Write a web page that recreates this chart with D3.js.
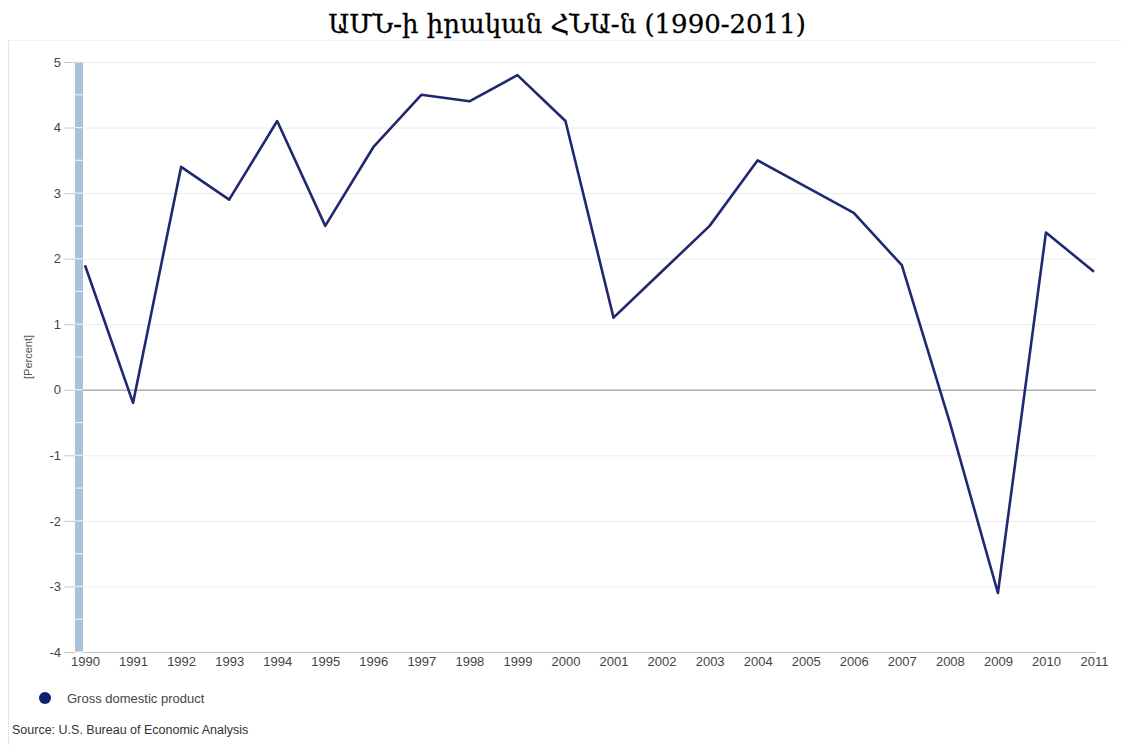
<!DOCTYPE html>
<html><head><meta charset="utf-8">
<script src="https://cdn.jsdelivr.net/npm/d3@7"></script>
<style>body{margin:0;background:#fff}svg{display:block}</style>
</head><body>
<svg id="c" width="1122" height="745"></svg>
<script>
const years = [1990,1991,1992,1993,1994,1995,1996,1997,1998,1999,2000,2001,2002,2003,2004,2005,2006,2007,2008,2009,2010,2011];
const gdp = [1.9,-0.2,3.4,2.9,4.1,2.5,3.7,4.5,4.4,4.8,4.1,1.1,1.8,2.5,3.5,3.1,2.7,1.9,-0.5,-3.1,2.4,1.8];
const yTicks = [-4,-3,-2,-1,0,1,2,3,4,5];
const title = "ԱՄՆ-ի իրական ՀՆԱ-ն (1990-2011)";
const seriesName = "Gross domestic product";
const source = "Source: U.S. Bureau of Economic  Analysis";
const yLabel = "[Percent]";

const svg = d3.select("#c");
const x = d3.scaleLinear().domain([1990,2011]).range([85,1094]);
const y = d3.scaleLinear().domain([-4,5]).range([652,62]);

// frame lines
svg.append("line").attr("x1",8.5).attr("x2",8.5).attr("y1",40).attr("y2",745).attr("stroke","#e4e4e4");
svg.append("line").attr("x1",8).attr("x2",1122).attr("y1",40.5).attr("y2",40.5).attr("stroke","#f0f0f0");

svg.append("text").attr("x",567).attr("y",33).attr("text-anchor","middle")
  .attr("font-family","DejaVu Serif, serif").attr("font-size",26).attr("fill","#000")
  .attr("stroke","#000").attr("stroke-width",0.3).text(title);

// grid
svg.append("g").selectAll("line").data(yTicks.filter(d=>d!==-4)).join("line")
  .attr("x1",83).attr("x2",1096).attr("y1",d=>y(d)+0.5).attr("y2",d=>y(d)+0.5)
  .attr("stroke",d=>d===0?"#b0b0b0":"#ebebeb").attr("stroke-width",d=>d===0?1.5:1);
svg.append("line").attr("x1",83).attr("x2",1096).attr("y1",652.5).attr("y2",652.5).attr("stroke","#b9c6d4");

// y axis bar
svg.append("rect").attr("x",75).attr("y",y(5)).attr("width",8).attr("height",y(-4)-y(5)).attr("fill","#a9c1d9");
const halfTicks = d3.range(-4,5.01,0.5);
svg.append("g").selectAll("line").data(halfTicks).join("line")
  .attr("x1",75).attr("x2",83).attr("y1",d=>y(d)).attr("y2",d=>y(d)).attr("stroke","#e6eef6").attr("stroke-width",1.2);

const yAxis = d3.axisLeft(y).tickValues(yTicks).tickSize(11).tickPadding(3).tickFormat(d=>String(d));
const ga = svg.append("g").attr("transform","translate(75,0)").call(yAxis);
ga.select(".domain").remove();
ga.selectAll(".tick line").attr("stroke","#c8c8c8");
ga.selectAll("text").attr("font-family","Liberation Sans, Arial, sans-serif").attr("font-size",13).attr("fill","#444");

const xAxis = d3.axisBottom(x).tickValues(years).tickSize(0).tickPadding(5).tickFormat(d=>String(d));
const gx = svg.append("g").attr("transform","translate(0,652)").call(xAxis);
gx.select(".domain").remove();
gx.selectAll("text").attr("font-family","Liberation Sans, Arial, sans-serif").attr("font-size",13).attr("fill","#444");

svg.append("text").attr("transform","translate(32,357) rotate(-90)").attr("text-anchor","middle")
  .attr("font-family","Liberation Sans, Arial, sans-serif").attr("font-size",11).attr("fill","#555").text(yLabel);

// line
const line = d3.line().x((d,i)=>x(years[i])).y(d=>y(d));
svg.append("path").datum(gdp).attr("d",line).attr("fill","none").attr("stroke","#1f2870")
  .attr("stroke-width",2.6).attr("stroke-linejoin","round");

// legend
svg.append("circle").attr("cx",45).attr("cy",698).attr("r",6).attr("fill","#10206a");
svg.append("text").attr("x",67).attr("y",703).attr("font-family","Liberation Sans, Arial, sans-serif")
  .attr("font-size",13).attr("fill","#444").text(seriesName);
svg.append("text").attr("x",12).attr("y",734).attr("font-family","Liberation Sans, Arial, sans-serif")
  .attr("font-size",12.5).attr("fill","#333").text(source);
</script>
</body></html>
